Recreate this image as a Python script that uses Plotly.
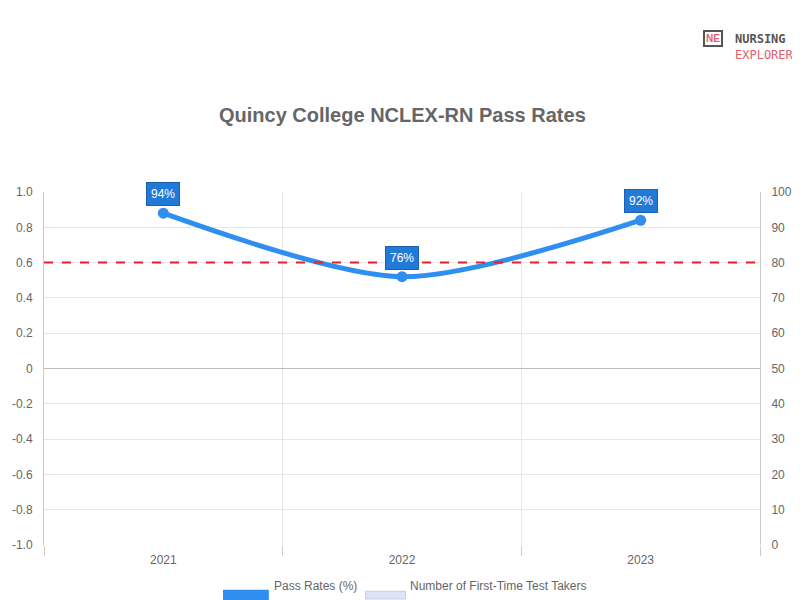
import plotly.graph_objects as go

years = ["2021", "2022", "2023"]
pass_rates = [94, 76, 92]
benchmark = 80
left_ticks = [-1.0, -0.8, -0.6, -0.4, -0.2, 0, 0.2, 0.4, 0.6, 0.8, 1.0]
left_labels = ["-1.0", "-0.8", "-0.6", "-0.4", "-0.2", "0", "0.2", "0.4", "0.6", "0.8", "1.0"]
right_ticks = [0, 10, 20, 30, 40, 50, 60, 70, 80, 90, 100]

xs = list(range(len(years)))
fig = go.Figure()
# empty trace on the left axis so it is drawn
fig.add_trace(go.Scatter(x=[None], y=[None], yaxis="y", showlegend=False, hoverinfo="skip"))
fig.add_trace(go.Scatter(x=xs, y=pass_rates, yaxis="y2", mode="lines+markers",
    line=dict(color="#2f8ff0", width=5, shape="spline", smoothing=0.8),
    marker=dict(size=11, color="#2f8ff0"), showlegend=False, hoverinfo="skip"))
fig.add_trace(go.Scatter(x=[-0.5, 2.5], y=[benchmark, benchmark], yaxis="y2", mode="lines",
    line=dict(color="#e8202a", width=2, dash="dash"), showlegend=False, hoverinfo="skip"))

for x, v in zip(xs, pass_rates):
    fig.add_annotation(x=x, y=v, yref="y2", text=f"{v}%", showarrow=False, yshift=19,
        font=dict(color="white", size=12, family="Liberation Sans"),
        bgcolor="#217ad6", bordercolor="#1a5fb0", borderwidth=1, borderpad=4)

fig.add_annotation(xref="paper", yref="paper", x=0.5, y=1, yshift=90, text="<b>Quincy College NCLEX-RN Pass Rates</b>",
    showarrow=False, font=dict(size=20, color="#666", family="Liberation Sans"))
fig.add_annotation(xref="paper", yref="paper", x=1.05, y=1, yshift=162, xanchor="right",
    text="<b><span style='color:#555'>NURSING</span></b><br><span style='color:#e06070'>EXPLORER</span>",
    showarrow=False, align="left", font=dict(size=12, family="DejaVu Sans Mono"))
fig.add_annotation(xref="paper", yref="paper", x=0.948, y=1, yshift=162, text="<b>NE</b>",
    showarrow=False, font=dict(size=10, color="#e06070"), bordercolor="#555", borderwidth=2, borderpad=1)

# legend
fig.add_shape(type="rect", xref="paper", yref="paper", x0=0.250, x1=0.314, y0=-0.157, y1=-0.127,
    fillcolor="#2f8ff0", line=dict(width=0))
fig.add_annotation(xref="paper", yref="paper", x=0.318, y=-0.142, xanchor="left", text="Pass Rates (%)",
    showarrow=False, font=dict(size=12, color="#666", family="Liberation Sans"))
fig.add_shape(type="rect", xref="paper", yref="paper", x0=0.449, x1=0.505, y0=-0.153, y1=-0.131,
    fillcolor="#dfe3f6", line=dict(width=1, color="#c8cbe0"))
fig.add_annotation(xref="paper", yref="paper", x=0.509, y=-0.142, xanchor="left",
    text="Number of First-Time Test Takers", showarrow=False,
    font=dict(size=12, color="#666", family="Liberation Sans"))

fig.update_layout(width=800, height=600, plot_bgcolor="white", paper_bgcolor="white",
    margin=dict(l=36, r=48, t=184, b=63, autoexpand=False),
    font=dict(family="Liberation Sans", color="#666", size=12),
    xaxis=dict(range=[-0.5, 2.5], tickvals=xs, ticktext=years, showgrid=False, ticks="",
        zeroline=False, showline=False, ticklabelstandoff=6,
        minor=dict(tick0=-0.5, dtick=1, showgrid=True, gridcolor="#e6e6e6", ticks="outside",
                   ticklen=10, tickcolor="#ccc")),
    yaxis=dict(range=[-1, 1], tickvals=left_ticks, ticktext=left_labels, gridcolor="#e6e6e6",
        zeroline=True, zerolinecolor="#bbb", zerolinewidth=1, showline=True, linecolor="#ccc",
        ticks="", ticklabelstandoff=8),
    yaxis2=dict(range=[0, 100], overlaying="y", side="right", tickvals=right_ticks, ticksuffix="%",
        showgrid=False, zeroline=False, showline=True, linecolor="#ccc", ticklabelstandoff=8),
)
fig.write_html("out.html")
